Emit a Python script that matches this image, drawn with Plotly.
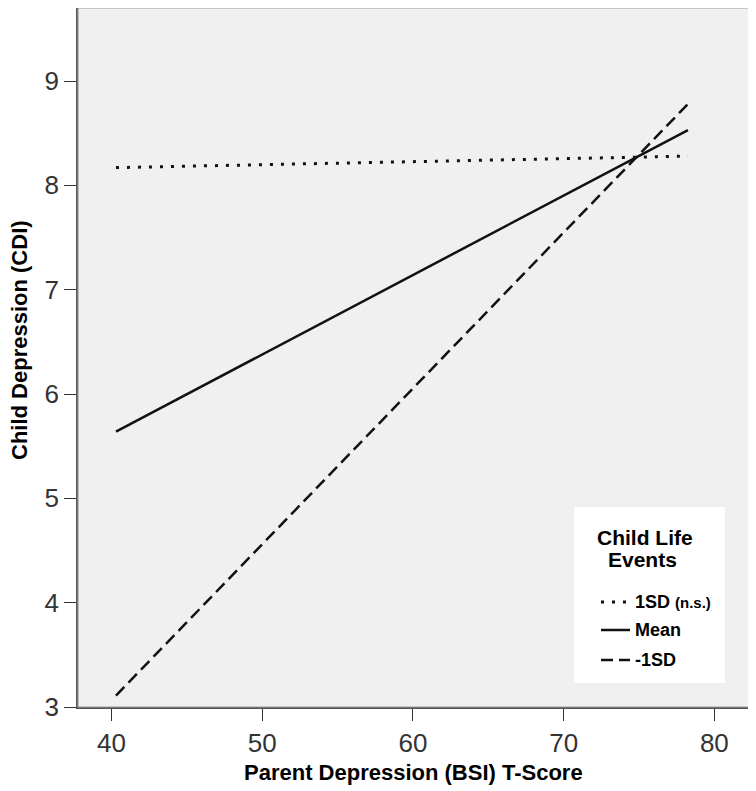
import plotly.graph_objects as go

# Data
x_vals = [40.3, 78.25]
series_names = ["1SD", "Mean", "-1SD"]
y_plus1sd = [8.17, 8.28]
y_mean = [5.64, 8.53]
y_minus1sd = [3.11, 8.78]
x_ticks = [40, 50, 60, 70, 80]
y_ticks = [3, 4, 5, 6, 7, 8, 9]
legend_labels = ["1SD <span style='font-size:15px'>(n.s.)</span>", "Mean", "-1SD"]

# page has an 8px body margin, so the figure is sized to fill the rest
OFF = 8
W, H = 756 - OFF, 791 - OFF
PL, PR, PT, PB = 78, 749, 8, 707          # plot area in page pixels
L, R, T, B = PL - OFF, (W + OFF) - PR, PT - OFF, (H + OFF) - PB
PW, PH = PR - PL, PB - PT


def px(X):
    return (X - PL) / PW


def py(Y):
    return (PB - Y) / PH


font_family = "Liberation Sans, Arial, sans-serif"

fig = go.Figure()
styles = [
    ("3px,8px", 3),
    ("solid", 2.5),
    ("12px,6px", 2.5),
]
for name, ys, (dash, w) in zip(series_names, [y_plus1sd, y_mean, y_minus1sd], styles):
    fig.add_trace(go.Scatter(
        x=x_vals, y=ys, mode="lines", name=name,
        line=dict(color="#111111", width=w, dash=dash),
        hoverinfo="skip", showlegend=False,
    ))

shapes = [
    dict(type="rect", xref="paper", yref="paper", x0=0, y0=0, x1=1, y1=1,
         line=dict(color="#999", width=1.2), layer="above"),
    # legend box
    dict(type="rect", xref="paper", yref="paper", x0=px(574), x1=px(725),
         y0=py(683), y1=py(507), fillcolor="white", line=dict(width=0), layer="above"),
]
annotations = [
    dict(text="<b>Child Life</b>", x=px(645), y=py(537), xref="paper", yref="paper",
         showarrow=False, xanchor="center", yanchor="middle",
         font=dict(size=21, color="#000", family=font_family)),
    dict(text="<b>Events</b>", x=px(642), y=py(559), xref="paper", yref="paper",
         showarrow=False, xanchor="center", yanchor="middle",
         font=dict(size=21, color="#000", family=font_family)),
    dict(text="<b>Parent Depression (BSI) T-Score</b>", x=px(413), y=py(772),
         xref="paper", yref="paper", showarrow=False, xanchor="center", yanchor="middle",
         font=dict(size=22, color="#000", family=font_family)),
    dict(text="<b>Child Depression (CDI)</b>", x=px(19), y=py(340),
         xref="paper", yref="paper", showarrow=False, xanchor="center", yanchor="middle",
         textangle=-90, font=dict(size=22, color="#000", family=font_family)),
]
entry_y = [602, 630, 660]
for (dash, w), lab, yy in zip(styles, legend_labels, entry_y):
    shapes.append(dict(type="line", xref="paper", yref="paper",
                       x0=px(601), x1=px(630), y0=py(yy), y1=py(yy),
                       line=dict(color="#111", width=w, dash=dash), layer="above"))
    annotations.append(dict(text="<b>" + lab + "</b>", x=px(633), y=py(yy),
                            xref="paper", yref="paper", showarrow=False,
                            xanchor="left", yanchor="middle",
                            font=dict(size=18, color="#000", family=font_family)))

fig.update_layout(
    width=W, height=H,
    margin=dict(l=L, r=R, t=T, b=B, pad=0, autoexpand=False),
    paper_bgcolor="white",
    plot_bgcolor="#f0f0f0",
    font=dict(family=font_family, color="#111"),
    showlegend=False,
    xaxis=dict(
        range=[37.78, 82.3], tickvals=x_ticks, ticktext=[str(t) for t in x_ticks],
        showgrid=False, zeroline=False, automargin=False,
        showline=True, linecolor="#555", linewidth=1.5,
        ticks="outside", ticklen=12, tickwidth=1.2, tickcolor="#333",
        tickfont=dict(size=26, color="#333", family=font_family),
    ),
    yaxis=dict(
        range=[3, 9.7], tickvals=y_ticks, ticktext=[str(t) for t in y_ticks],
        showgrid=False, zeroline=False, automargin=False,
        showline=True, linecolor="#555", linewidth=1.5,
        ticks="outside", ticklen=12, tickwidth=1.2, tickcolor="#333",
        tickfont=dict(size=26, color="#333", family=font_family),
    ),
    shapes=shapes,
    annotations=annotations,
)

fig.write_html("out.html")
